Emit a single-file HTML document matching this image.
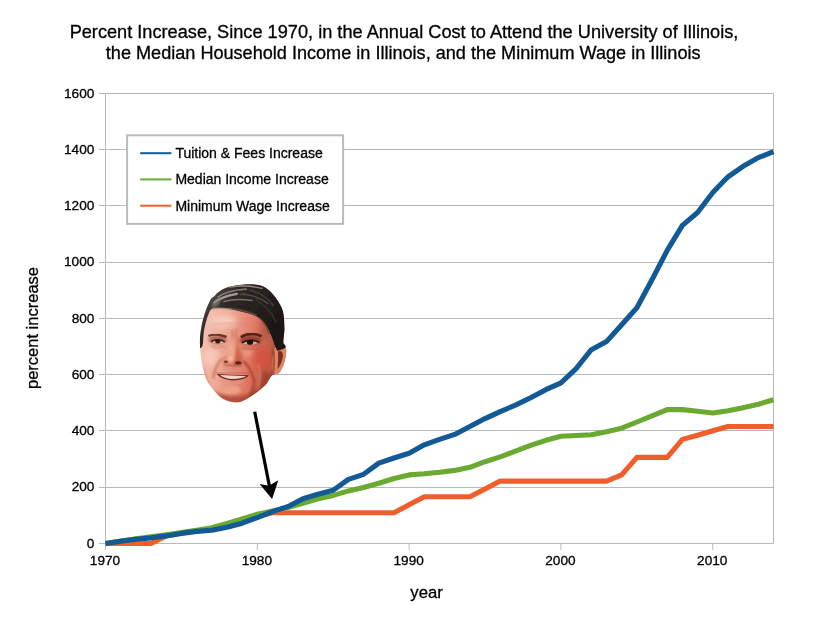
<!DOCTYPE html>
<html><head><meta charset="utf-8"><title>Percent Increase Since 1970</title>
<style>
html,body{margin:0;padding:0;background:#fff;}
body{width:818px;height:619px;overflow:hidden;font-family:"Liberation Sans",sans-serif;}
svg{display:block;}
svg text{font-family:"Liberation Sans",sans-serif;fill:#000;stroke:#000;stroke-width:0.3px;}
</style></head><body>
<svg width="818" height="619" viewBox="0 0 818 619">
<rect width="818" height="619" fill="#fff"/>
<g font-size="18.18">
<text x="404.0" y="37.8" text-anchor="middle">Percent Increase, Since 1970, in the Annual Cost to Attend the University of Illinois,</text>
<text x="403.2" y="58.7" font-size="18.1" text-anchor="middle">the Median Household Income in Illinois, and the Minimum Wage in Illinois</text>
</g>
<g stroke="#b9b9b9" stroke-width="1">
<line x1="99" y1="543.50" x2="773.5" y2="543.50"/>
<line x1="99" y1="487.50" x2="773.5" y2="487.50"/>
<line x1="99" y1="430.50" x2="773.5" y2="430.50"/>
<line x1="99" y1="374.50" x2="773.5" y2="374.50"/>
<line x1="99" y1="318.50" x2="773.5" y2="318.50"/>
<line x1="99" y1="262.50" x2="773.5" y2="262.50"/>
<line x1="99" y1="205.50" x2="773.5" y2="205.50"/>
<line x1="99" y1="149.50" x2="773.5" y2="149.50"/>
<line x1="99" y1="93.50" x2="773.5" y2="93.50"/>
<line x1="105.5" y1="93.5" x2="105.5" y2="550"/>
<line x1="773.5" y1="93.5" x2="773.5" y2="543.5"/>
<line x1="105.50" y1="543.5" x2="105.50" y2="550"/>
<line x1="257.32" y1="543.5" x2="257.32" y2="550"/>
<line x1="409.14" y1="543.5" x2="409.14" y2="550"/>
<line x1="560.95" y1="543.5" x2="560.95" y2="550"/>
<line x1="712.77" y1="543.5" x2="712.77" y2="550"/>
</g>
<g font-size="13.65">
<text x="94.4" y="547.70" text-anchor="end">0</text>
<text x="94.4" y="491.45" text-anchor="end">200</text>
<text x="94.4" y="435.20" text-anchor="end">400</text>
<text x="94.4" y="378.95" text-anchor="end">600</text>
<text x="94.4" y="322.70" text-anchor="end">800</text>
<text x="94.4" y="266.45" text-anchor="end">1000</text>
<text x="94.4" y="210.20" text-anchor="end">1200</text>
<text x="94.4" y="153.95" text-anchor="end">1400</text>
<text x="94.4" y="97.70" text-anchor="end">1600</text>
<text x="105.00" y="565.3" text-anchor="middle">1970</text>
<text x="256.82" y="565.3" text-anchor="middle">1980</text>
<text x="408.64" y="565.3" text-anchor="middle">1990</text>
<text x="560.45" y="565.3" text-anchor="middle">2000</text>
<text x="712.27" y="565.3" text-anchor="middle">2010</text>
</g>
<text font-size="16.7" x="426.6" y="598.2" text-anchor="middle">year</text>
<text font-size="16.5" transform="translate(38,328) rotate(-90)" text-anchor="middle">percent increase</text>
<g fill="none" stroke-width="5.1" stroke-linejoin="round" stroke-linecap="butt">
<polyline stroke="#f05e2c" points="105.5,543.5 120.7,543.5 135.9,543.5 151.0,543.5 166.2,535.9 181.4,533.1 196.6,530.8 211.8,529.4 227.0,525.5 242.1,521.0 257.3,516.2 272.5,512.8 287.7,512.8 302.9,512.8 318.0,512.8 333.2,512.8 348.4,512.8 363.6,512.8 378.8,512.8 394.0,512.8 409.1,504.8 424.3,496.8 439.5,496.8 454.7,496.8 469.9,496.8 485.0,488.9 500.2,481.1 515.4,481.1 530.6,481.1 545.8,481.1 561.0,481.1 576.1,481.1 591.3,481.1 606.5,481.1 621.7,474.9 636.9,457.4 652.0,457.4 667.2,457.4 682.4,439.4 697.6,435.2 712.8,430.7 728.0,426.5 743.1,426.5 758.3,426.5 773.5,426.5"/>
<polyline stroke="#6aaa33" points="105.5,543.5 120.7,541.0 135.9,538.7 151.0,536.8 166.2,534.8 181.4,532.5 196.6,530.3 211.8,527.8 227.0,523.5 242.1,519.0 257.3,514.2 272.5,510.9 287.7,507.5 302.9,503.3 318.0,498.8 333.2,495.4 348.4,490.9 363.6,487.5 378.8,483.3 394.0,478.5 409.1,474.9 424.3,473.8 439.5,472.3 454.7,470.4 469.9,467.3 485.0,461.7 500.2,456.9 515.4,451.2 530.6,445.3 545.8,440.3 561.0,436.3 576.1,435.5 591.3,434.7 606.5,431.8 621.7,428.2 636.9,422.0 652.0,415.8 667.2,409.6 682.4,409.6 697.6,411.3 712.8,413.0 728.0,410.8 743.1,407.7 758.3,404.3 773.5,399.8"/>
<polyline stroke="#125a96" points="105.5,543.5 120.7,541.2 135.9,539.3 151.0,537.9 166.2,535.9 181.4,533.4 196.6,531.4 211.8,530.3 227.0,527.2 242.1,523.2 257.3,517.6 272.5,511.7 287.7,506.7 302.9,498.8 318.0,494.3 333.2,490.3 348.4,479.4 363.6,474.3 378.8,463.1 394.0,458.0 409.1,453.2 424.3,444.8 439.5,439.4 454.7,434.4 469.9,426.5 485.0,418.6 500.2,411.6 515.4,405.1 530.6,397.8 545.8,389.7 561.0,382.9 576.1,368.6 591.3,349.7 606.5,341.6 621.7,324.7 636.9,307.8 652.0,279.7 667.2,250.4 682.4,225.4 697.6,212.5 712.8,192.5 728.0,176.8 743.1,166.3 758.3,157.6 773.5,151.7"/>
</g>
<rect x="127.1" y="135.3" width="216" height="88.6" fill="#fff" stroke="#bbbbbb" stroke-width="2"/>
<g stroke-width="2">
<line x1="140.2" y1="153.2" x2="171.4" y2="153.2" stroke="#125a96"/>
<line x1="140.2" y1="179.4" x2="171.4" y2="179.4" stroke="#6aaa33"/>
<line x1="140.2" y1="205.7" x2="171.4" y2="205.7" stroke="#f05e2c"/>
</g>
<g font-size="14">
<text x="175.4" y="158.2">Tuition &amp; Fees Increase</text>
<text x="175.4" y="184.4">Median Income Increase</text>
<text x="175.4" y="210.7">Minimum Wage Increase</text>
</g>
<g id="face">
<defs>
<clipPath id="hc"><path d="M210.3,300.2C211.4,298.0 211.9,298.2 212.6,297.6C213.2,297.0 213.3,297.5 214.2,296.6C215.1,295.7 215.9,293.8 218.2,292.2C220.5,290.6 223.7,288.6 228.0,287.3C232.3,286.0 238.8,285.0 243.9,284.6C249.0,284.2 254.5,284.2 258.6,285.1C262.7,286.0 265.2,287.4 268.3,289.8C271.4,292.2 274.4,295.9 276.9,299.6C279.3,303.3 281.8,306.9 283.0,311.8C284.2,316.7 284.3,323.9 284.4,328.9C284.4,333.9 283.2,339.2 283.3,342.0C283.4,344.8 284.7,344.0 285.2,345.6C285.7,347.2 286.3,348.8 286.2,351.5C286.1,354.2 285.5,358.6 284.4,362.0C283.3,365.4 281.4,369.9 279.8,372.0C278.2,374.1 276.0,373.8 274.5,374.5C273.0,375.2 272.4,374.8 271.0,376.5C269.6,378.2 268.4,381.8 265.9,384.5C263.4,387.2 259.4,390.4 256.1,392.8C252.8,395.2 249.3,397.6 246.3,399.2C243.3,400.8 241.0,402.0 238.0,402.3C235.0,402.6 231.1,401.8 228.2,400.9C225.3,400.0 222.7,398.5 220.5,396.9C218.3,395.3 216.6,393.2 214.8,391.2C213.0,389.2 211.2,387.0 209.8,385.0C208.4,383.0 207.4,381.5 206.3,379.0C205.2,376.5 204.2,373.3 203.4,370.0C202.6,366.7 201.9,364.0 201.3,359.4C200.7,354.8 199.9,347.8 199.9,342.3C199.9,336.8 200.5,331.8 201.5,326.5C202.5,321.2 204.3,315.0 205.8,310.6C207.3,306.2 209.2,302.4 210.3,300.2Z"/></clipPath>
<filter id="b0" x="-20%" y="-20%" width="140%" height="140%"><feGaussianBlur stdDeviation="0.45"/></filter>
<filter id="b1" x="-20%" y="-20%" width="140%" height="140%"><feGaussianBlur stdDeviation="0.8"/></filter>
<filter id="b2" x="-30%" y="-30%" width="160%" height="160%"><feGaussianBlur stdDeviation="1.6"/></filter>
<filter id="b3" x="-40%" y="-40%" width="180%" height="180%"><feGaussianBlur stdDeviation="3.2"/></filter>
<linearGradient id="sk" x1="0" y1="0" x2="1" y2="0.25">
<stop offset="0" stop-color="#f8d4ca"/><stop offset="0.4" stop-color="#eea996"/><stop offset="0.72" stop-color="#de7360"/><stop offset="1" stop-color="#a44834"/>
</linearGradient>
<linearGradient id="hg" x1="0" y1="0" x2="1" y2="0.6">
<stop offset="0" stop-color="#66605a"/><stop offset="0.38" stop-color="#2e2825"/><stop offset="1" stop-color="#1a1514"/>
</linearGradient>
</defs>
<g clip-path="url(#hc)">
<rect x="195" y="280" width="95" height="126" fill="url(#sk)"/>
<!-- highlights -->
<ellipse cx="224" cy="321" rx="13" ry="6" fill="#f9d3c4" filter="url(#b3)" opacity="0.85"/>
<ellipse cx="211" cy="357" rx="7" ry="10" fill="#f8cbbd" filter="url(#b3)" opacity="0.95"/>
<ellipse cx="231" cy="350" rx="3" ry="8" fill="#f3ac8a" filter="url(#b2)" opacity="0.8"/>
<ellipse cx="232" cy="390" rx="9" ry="4.5" fill="#f0a58a" filter="url(#b2)" opacity="0.85"/>
<ellipse cx="248" cy="353" rx="5" ry="4" fill="#ee9a80" filter="url(#b2)" opacity="0.7"/>
<!-- shadows -->
<ellipse cx="262" cy="360" rx="9" ry="14" fill="#d4503c" filter="url(#b3)" opacity="0.75"/>
<ellipse cx="266" cy="330" rx="6" ry="12" fill="#b05844" filter="url(#b3)" opacity="0.75"/>
<path d="M208,388 Q232,403 258,390 L266,404 L206,406Z" fill="#a84430" filter="url(#b2)" opacity="0.8"/>
<path d="M263,370 Q263,386 248,397 L264,398 L274,376Z" fill="#9c3c2a" filter="url(#b2)" opacity="0.8"/>
<path d="M203,365 Q206,380 214,392 L204,392Z" fill="#d07860" filter="url(#b2)" opacity="0.7"/>
<!-- ear -->
<path d="M274.0,350.0C275.2,346.2 277.2,346.3 279.0,345.5C280.8,344.7 283.3,344.1 284.6,345.0C285.9,345.9 286.6,348.2 286.6,351.0C286.6,353.8 285.9,358.4 284.8,362.0C283.7,365.6 282.0,370.2 280.2,372.5C278.4,374.8 275.4,376.2 274.0,375.5C272.6,374.8 271.5,372.2 271.5,368.0C271.5,363.8 272.8,353.8 274.0,350.0Z" fill="#de8464"/>
<path d="M278,351.5 Q282.5,349.5 283,356 Q281.5,364.5 277.5,369 Q278.5,360 278,351.5Z" fill="#6e2618" filter="url(#b0)" opacity="0.9"/>
<path d="M273.2,350 Q275.8,362 272,376" stroke="#7c3222" stroke-width="2.2" fill="none" filter="url(#b1)" opacity="0.85"/>
<!-- eye sockets -->
<ellipse cx="217.5" cy="339.6" rx="9" ry="4.2" fill="#9c5440" filter="url(#b2)" opacity="0.85"/>
<ellipse cx="250.5" cy="340" rx="11" ry="5" fill="#8c3e2c" filter="url(#b2)" opacity="0.9"/>
<!-- brows -->
<path d="M208.4,336 Q215,332.8 226.6,337" stroke="#5a2e20" stroke-width="2.4" fill="none" filter="url(#b0)" opacity="0.9"/>
<path d="M240.8,337.2 Q250,331 261.6,336.2" stroke="#4a2016" stroke-width="2.7" fill="none" filter="url(#b0)" opacity="0.95"/>
<!-- eyes -->
<path d="M211,341.8 Q217.5,338 225,342 Q218,345 211,341.8Z" fill="#e8c0b0" filter="url(#b0)" opacity="0.9"/>
<path d="M241.8,343 Q250,338.4 259.4,342.6 Q250.5,346.6 241.8,343Z" fill="#e4b8a8" filter="url(#b0)" opacity="0.9"/>
<path d="M211,341.6 Q217.5,337.8 225,341.8" stroke="#3a1a10" stroke-width="1.4" fill="none" filter="url(#b0)"/>
<path d="M241.8,342.8 Q250,338.2 259.4,342.4" stroke="#2a120c" stroke-width="1.6" fill="none" filter="url(#b0)"/>
<ellipse cx="217.8" cy="341.4" rx="2.6" ry="2" fill="#2e150d" filter="url(#b0)"/>
<ellipse cx="250" cy="342.4" rx="3.1" ry="2.3" fill="#22100a" filter="url(#b0)"/>
<!-- under eye -->
<path d="M210.5,345.6 Q218,349.3 225.5,346.2" stroke="#d07860" stroke-width="1.3" fill="none" filter="url(#b1)" opacity="0.85"/>
<path d="M242,347.6 Q251,351.6 260.5,346.8" stroke="#bc5c46" stroke-width="1.4" fill="none" filter="url(#b1)" opacity="0.85"/>
<!-- frown lines -->
<path d="M232,330.5 L233,338 M236.5,329.5 L236,338" stroke="#b4583f" stroke-width="1.1" fill="none" filter="url(#b1)" opacity="0.8"/>
<path d="M212,324 Q230,321.5 252,325" stroke="#d88468" stroke-width="1" fill="none" filter="url(#b1)" opacity="0.6"/>
<!-- nose -->
<path d="M237,338 Q238.5,350 242.5,360" stroke="#c86048" stroke-width="2.2" fill="none" filter="url(#b1)" opacity="0.6"/>
<ellipse cx="230.5" cy="358.5" rx="3" ry="2.4" fill="#f6c2a8" filter="url(#b1)" opacity="0.75"/>
<path d="M236.5,345 Q240.5,356 242,362 Q239,366.5 233,365.5 Q236.5,356 236.5,345Z" fill="#c25438" filter="url(#b1)" opacity="0.75"/>
<path d="M222.5,360 Q224,356.5 227,357.5" stroke="#c0644a" stroke-width="1.2" fill="none" filter="url(#b1)" opacity="0.8"/>
<ellipse cx="225.8" cy="361.8" rx="2.4" ry="1.3" fill="#74301f" filter="url(#b0)" opacity="0.9"/>
<ellipse cx="238.3" cy="363" rx="3.2" ry="1.7" fill="#541e12" filter="url(#b0)" opacity="0.95"/>
<path d="M223.5,363.8 Q232,367.2 242,364.8" stroke="#98422c" stroke-width="1.6" fill="none" filter="url(#b1)" opacity="0.85"/>
<!-- smile lines -->
<path d="M221.5,359 Q214.5,367 213.2,378.5" stroke="#bc624c" stroke-width="1.8" fill="none" filter="url(#b1)" opacity="0.85"/>
<path d="M243.5,361 Q251.5,369 254,380 Q254.5,388 250,395" stroke="#9c3a28" stroke-width="2.2" fill="none" filter="url(#b1)" opacity="0.85"/>
<path d="M258,364 Q263,378 257.5,391" stroke="#e89478" stroke-width="1.6" fill="none" filter="url(#b1)" opacity="0.55"/>
<!-- mouth -->
<path d="M216.6,373.9 Q232,374.6 249.2,375.2 Q245,380 232.5,380.4 Q222,379.8 216.6,373.9Z" fill="#6a241c" filter="url(#b0)"/>
<path d="M220,375 Q232,375.6 246,376 Q243,378.6 232.5,379 Q224,378.7 220,375Z" fill="#f2d6c8"/>
<path d="M219.5,380.2 Q232,383.6 246,379.8 Q241,384.8 232,385.2 Q224.5,384.8 219.5,380.2Z" fill="#e09484" filter="url(#b1)" opacity="0.9"/>
<path d="M216,372.6 Q232,371.6 250.5,373.4" stroke="#bc5a46" stroke-width="1.7" fill="none" filter="url(#b1)" opacity="0.7"/>
<ellipse cx="232" cy="368.5" rx="9" ry="2.2" fill="#d08470" filter="url(#b2)" opacity="0.6"/>
<!-- hair -->
<path d="M198.5,346.0C197.9,342.7 198.1,332.2 199.0,326.0C199.9,319.8 202.2,313.8 204.0,309.0C205.8,304.2 207.8,300.2 210.0,297.0C212.2,293.8 214.0,292.0 217.0,290.0C220.0,288.0 223.5,286.3 228.0,285.0C232.5,283.7 238.7,282.3 244.0,282.0C249.3,281.7 255.7,282.0 260.0,283.0C264.3,284.0 266.8,285.5 270.0,288.0C273.2,290.5 276.3,294.2 279.0,298.0C281.7,301.8 284.7,305.8 286.0,311.0C287.3,316.2 287.0,323.2 287.0,329.0C287.0,334.8 287.2,342.5 286.0,346.0C284.8,349.5 281.5,349.2 280.0,350.0C278.5,350.8 277.9,350.8 277.2,350.5C276.5,350.2 276.5,349.1 276.0,348.0C275.5,346.9 275.0,345.8 274.3,344.0C273.6,342.2 273.0,340.0 272.0,337.5C271.0,335.0 269.7,331.6 268.3,329.0C266.9,326.4 265.5,323.9 263.5,321.8C261.5,319.7 259.4,317.8 256.1,316.2C252.8,314.6 248.0,313.3 243.9,312.2C239.8,311.1 235.3,310.2 231.7,309.5C228.0,308.8 224.8,308.4 222.0,308.2C219.2,307.9 216.8,307.8 215.0,308.0C213.2,308.2 212.1,308.6 211.0,309.6C209.9,310.6 209.4,312.1 208.6,314.0C207.8,315.9 207.0,318.0 206.2,321.0C205.4,324.0 204.4,327.8 203.8,332.0C203.2,336.2 203.3,343.7 202.4,346.0C201.5,348.3 199.1,349.3 198.5,346.0Z" fill="url(#hg)" filter="url(#b0)"/>
<g filter="url(#b0)" fill="none" stroke-linecap="round">
<path d="M214.5,302.5 Q221,296.5 237,293.8" stroke="#b0a8a0" stroke-width="2.2" opacity="0.9"/>
<path d="M218,297 Q228,290.2 246,289.2" stroke="#8e8680" stroke-width="1.8" opacity="0.85"/>
<path d="M224,301.5 Q236,298 252,300.5" stroke="#8a7e76" stroke-width="1.6" opacity="0.85"/>
<path d="M230,287 Q246,284.6 262,288.4" stroke="#9a928c" stroke-width="1.4" opacity="0.9"/>
<path d="M240,294 Q256,294.6 268,303.6" stroke="#5c5450" stroke-width="1.5" opacity="0.8"/>
<path d="M250,290.3 Q264,293.3 273,305.3" stroke="#4a4442" stroke-width="1.5" opacity="0.8"/>
<path d="M256,300 Q270,308 276,322" stroke="#3a3432" stroke-width="1.5" opacity="0.8"/>
<path d="M213,308.6 Q222,307.6 231,309" stroke="#b08e7e" stroke-width="1.6" opacity="0.7"/>
<ellipse cx="216" cy="303" rx="6" ry="3" transform="rotate(-50 216 303)" fill="#8c8680" filter="url(#b1)" opacity="0.6"/>
<path d="M232,308.6 Q245,310.4 256,315" stroke="#78544a" stroke-width="1.8" opacity="0.7"/>
<path d="M258.5,317 Q265.5,323 269.2,333.5" stroke="#5c3a30" stroke-width="1.5" opacity="0.65"/>
</g>
</g>
</g>
<g>
<line x1="254.7" y1="411.7" x2="269.6" y2="487" stroke="#000" stroke-width="3.2"/>
<polygon points="272.1,499 259.6,484 269,485.7 278.3,480.2" fill="#000"/>
</g>
</svg>
</body></html>
